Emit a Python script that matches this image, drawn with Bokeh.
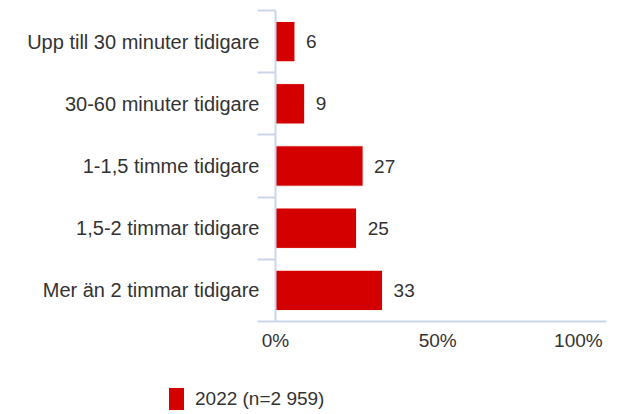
from bokeh.plotting import figure
from bokeh.models import Range1d, FixedTicker, Legend, LegendItem
from bokeh.layouts import column
from bokeh.core.properties import value
from bokeh.embed import file_html
from bokeh.resources import INLINE
import numpy as np

categories = [
    "Upp till 30 minuter tidigare",
    "30-60 minuter tidigare",
    "1-1,5 timme tidigare",
    "1,5-2 timmar tidigare",
    "Mer än 2 timmar tidigare",
]
values_2022 = [6, 9, 27, 25, 33]
series_name = "2022 (n=2 959)"
x_ticks = [0, 50, 100]
x_tick_labels = ["0%", "50%", "100%"]

FONT = "Liberation Sans"
TXT = "#333333"
AXIS = "#ccd6eb"
RED = "#d40000"
NBSP = "\u00a0"

n = len(categories)
ypos = np.arange(n)

p = figure(width=618, height=360, output_backend="svg", toolbar_location=None,
           x_range=Range1d(0, 102), y_range=Range1d(n - 0.5, -0.5),
           min_border_left=275, min_border_right=12, min_border_top=10,
           min_border_bottom=39)
p.outline_line_color = None
p.xgrid.visible = False
p.ygrid.visible = False

bars = p.hbar(y=ypos, left=0, right=values_2022, height=0.65,
              fill_color=RED, line_color="white", line_width=1)

p.text(x=values_2022, y=ypos, text=[str(v) for v in values_2022],
       x_offset=11, text_align="left", text_baseline="middle",
       text_font=value(FONT), text_font_size="19px", text_color=TXT)

# y axis: category names at band centres, separators at band edges
ya = p.yaxis[0]
ya.ticker = FixedTicker(ticks=list(ypos), minor_ticks=list(np.arange(n + 1) - 0.5))
ya.major_label_overrides = {int(i): c for i, c in zip(ypos, categories)}
ya.major_tick_out = 0
ya.major_tick_in = 0
ya.minor_tick_out = 18
ya.minor_tick_in = 0
ya.minor_tick_line_color = AXIS
ya.minor_tick_line_width = 2
ya.axis_line_color = AXIS
ya.axis_line_width = 2
ya.major_label_standoff = -2
ya.major_label_text_font = FONT
ya.major_label_text_font_size = "20px"
ya.major_label_text_color = TXT

# x axis (last label justified leftwards so it fits, as in the original)
xa = p.xaxis[0]
xa.ticker = FixedTicker(ticks=x_ticks, minor_ticks=[])
overrides = {t: l for t, l in zip(x_ticks, x_tick_labels)}
overrides[x_ticks[-1]] = x_tick_labels[-1] + NBSP * 3
xa.major_label_overrides = overrides
xa.major_tick_out = 0
xa.major_tick_in = 0
xa.minor_tick_out = 0
xa.axis_line_color = AXIS
xa.axis_line_width = 2
xa.major_label_standoff = 8
xa.major_label_text_font = FONT
xa.major_label_text_font_size = "19px"
xa.major_label_text_color = TXT

# legend strip below the chart
lg = figure(width=618, height=53, output_backend="svg", toolbar_location=None,
            x_range=Range1d(0, 1), y_range=Range1d(0, 1),
            x_axis_type=None, y_axis_type=None,
            min_border_left=166, min_border_top=24, min_border_right=0,
            min_border_bottom=0)
for fig in (p, lg):
    try:
        fig.frame_align = False
    except Exception:
        pass
lg.outline_line_color = None
lg.xgrid.visible = False
lg.ygrid.visible = False
leg_r = lg.hbar(y=ypos, left=0, right=values_2022, height=0.65,
                fill_color=RED, line_color="white", line_width=1, visible=False)
legend = Legend(items=[LegendItem(label=series_name, renderers=[leg_r])],
                location="top_left", orientation="horizontal",
                border_line_color=None, background_fill_alpha=0,
                padding=0, margin=0, glyph_width=20, glyph_height=29,
                label_standoff=9, label_text_font=FONT,
                label_text_font_size="19px", label_text_color=TXT)
lg.add_layout(legend, "center")

layout = column(p, lg, spacing=0)
open("out.html", "w").write(file_html(layout, INLINE))
